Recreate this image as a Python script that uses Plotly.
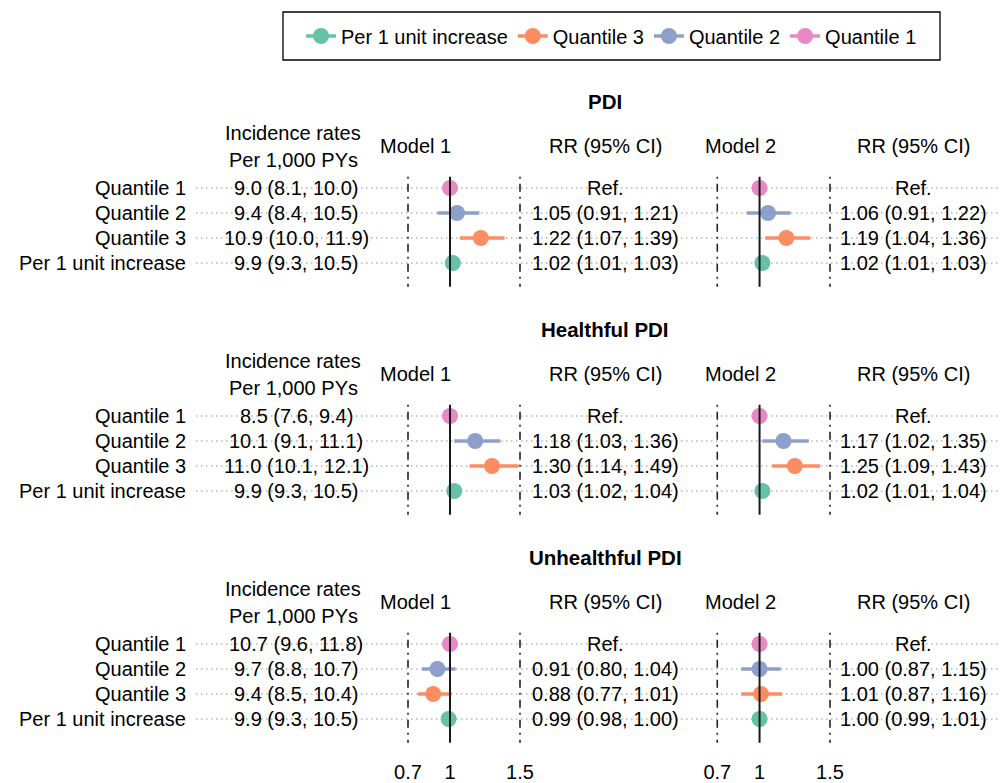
import plotly.graph_objects as go

# The page places the figure 8px from the top-left corner of the window,
# so the figure is 1000x775 and reference pixel positions are shifted by OFF.
OFF = 8
W, H = 1008 - OFF, 783 - OFF

# ---------------- data ----------------
row_labels = ["Quantile 1", "Quantile 2", "Quantile 3", "Per 1 unit increase"]
panel_titles = ["PDI", "Healthful PDI", "Unhealthful PDI"]

# incidence rates per 1,000 PYs (rate, lower, upper)
ir_rate = [[9.0, 9.4, 10.9, 9.9], [8.5, 10.1, 11.0, 9.9], [10.7, 9.7, 9.4, 9.9]]
ir_lo = [[8.1, 8.4, 10.0, 9.3], [7.6, 9.1, 10.1, 9.3], [9.6, 8.8, 8.5, 9.3]]
ir_hi = [[10.0, 10.5, 11.9, 10.5], [9.4, 11.1, 12.1, 10.5], [11.8, 10.7, 10.4, 10.5]]

# Model 1 RR (95% CI)
m1_rr = [[1.00, 1.05, 1.22, 1.02], [1.00, 1.18, 1.30, 1.03], [1.00, 0.91, 0.88, 0.99]]
m1_lo = [[1.00, 0.91, 1.07, 1.01], [1.00, 1.03, 1.14, 1.02], [1.00, 0.80, 0.77, 0.98]]
m1_hi = [[1.00, 1.21, 1.39, 1.03], [1.00, 1.36, 1.49, 1.04], [1.00, 1.04, 1.01, 1.00]]

# Model 2 RR (95% CI)
m2_rr = [[1.00, 1.06, 1.19, 1.02], [1.00, 1.17, 1.25, 1.02], [1.00, 1.00, 1.01, 1.00]]
m2_lo = [[1.00, 0.91, 1.04, 1.01], [1.00, 1.02, 1.09, 1.01], [1.00, 0.87, 0.87, 0.99]]
m2_hi = [[1.00, 1.22, 1.36, 1.03], [1.00, 1.35, 1.43, 1.04], [1.00, 1.15, 1.16, 1.01]]

x_tickvals = [0.7, 1, 1.5]
x_ticktext = ["0.7", "1", "1.5"]
dashed_refs = [0.7, 1.5]
null_ref = 1

colors = {
    "Quantile 1": "#E78AC3",
    "Quantile 2": "#8DA0CB",
    "Quantile 3": "#FC8D62",
    "Per 1 unit increase": "#66C2A5",
}
legend_order = ["Per 1 unit increase", "Quantile 3", "Quantile 2", "Quantile 1"]

# ---------------- layout helpers ----------------
FONT = "Liberation Sans, Arial, sans-serif"
FS = 20
ROW_PX = 25.0
row0_px = [188 - OFF, 416 - OFF, 644 - OFF]
Y_TOP, Y_BOT = -4.0, 4.2  # axis units (rows are 0..3), reversed axis


def fx(ref_px):
    return (ref_px - OFF) / W


def fy(ref_px):
    return 1 - (ref_px - OFF) / H


def ydomain(r0):
    top = r0 + Y_TOP * ROW_PX
    bot = r0 + Y_BOT * ROW_PX
    return [1 - bot / H, 1 - top / H]


fig = go.Figure()

models = [("x", m1_rr, m1_lo, m1_hi), ("x2", m2_rr, m2_lo, m2_hi)]
shown = set()
for p in range(3):
    yref = "y" if p == 0 else f"y{p + 1}"
    for xa, rr, lo, hi in models:
        for r, lab in enumerate(row_labels):
            est = rr[p][r]
            fig.add_trace(go.Scatter(
                x=[est], y=[r], xaxis=xa, yaxis=yref,
                mode="lines+markers", name=lab, legendgroup=lab,
                showlegend=lab not in shown,
                legendrank=legend_order.index(lab) + 1,
                marker=dict(size=16, color=colors[lab]),
                line=dict(color=colors[lab], width=3.5),
                error_x=dict(type="data", symmetric=False,
                             array=[hi[p][r] - est], arrayminus=[est - lo[p][r]],
                             thickness=3.5, width=0, color=colors[lab]),
                hoverinfo="skip",
            ))
            shown.add(lab)

shapes = []
annotations = []

# legend frame
shapes.append(dict(type="rect", xref="paper", yref="paper",
                   x0=fx(283), x1=fx(940), y0=fy(60), y1=fy(12),
                   line=dict(color="black", width=1.3), fillcolor="rgba(0,0,0,0)",
                   layer="above"))

for p in range(3):
    yref = "y" if p == 0 else f"y{p + 1}"
    # dotted row guide lines
    for r in range(len(row_labels)):
        shapes.append(dict(type="line", xref="paper", yref=yref,
                           x0=fx(196), x1=fx(1003), y0=r, y1=r,
                           line=dict(color="#b5b5b5", width=1.3, dash="1.5px,3.5px"),
                           layer="below"))
    for xa in ["x", "x2"]:
        for v in dashed_refs:
            shapes.append(dict(type="line", xref=xa, yref=yref, x0=v, x1=v,
                               y0=-0.45, y1=3.95,
                               line=dict(color="#222222", width=1.6, dash="2px,5px,8px,5px"),
                               layer="below"))
        shapes.append(dict(type="line", xref=xa, yref=yref, x0=null_ref, x1=null_ref,
                           y0=-0.45, y1=3.95,
                           line=dict(color="#1a1a1a", width=2), layer="above"))

    def ann(text, xpx, y, anchor="center", bold=False, size=FS):
        annotations.append(dict(
            text=f"<b>{text}</b>" if bold else text,
            x=fx(xpx), xref="paper", y=y, yref=yref,
            xanchor=anchor, yanchor="middle", showarrow=False,
            font=dict(family=FONT, size=size, color="black")))

    ann(panel_titles[p], 605, -3.45, bold=True, size=20.5)
    ann("Incidence rates", 293, -2.2)
    ann("Per 1,000 PYs", 293, -1.12)
    ann("Model 1", 415, -1.68)
    ann("RR (95% CI)", 605, -1.68)
    ann("Model 2", 740, -1.68)
    ann("RR (95% CI)", 913, -1.68)
    for r, lab in enumerate(row_labels):
        ann(lab, 188, r, anchor="right")
        ann(f"{ir_rate[p][r]:.1f} ({ir_lo[p][r]:.1f}, {ir_hi[p][r]:.1f})", 296, r)
        for (xa, rr, lo, hi), cx in zip(models, [605, 913]):
            if r == 0:
                txt = "Ref."
            else:
                txt = f"{rr[p][r]:.2f} ({lo[p][r]:.2f}, {hi[p][r]:.2f})"
            ann(txt, cx, r)

yaxis_common = dict(range=[Y_BOT, Y_TOP], visible=False, fixedrange=True)
xaxis_common = dict(range=[0.6, 1.6], showgrid=False, zeroline=False, showline=False,
                    ticks="", tickvals=x_tickvals, ticktext=x_ticktext,
                    tickfont=dict(family=FONT, size=FS, color="black"),
                    anchor="y3", ticklabelstandoff=9, fixedrange=True)

fig.update_layout(
    width=W, height=H,
    margin=dict(l=0, r=0, t=0, b=0),
    paper_bgcolor="white", plot_bgcolor="white",
    font=dict(family=FONT, size=FS, color="black"),
    xaxis=dict(domain=[fx(394), fx(534)], **xaxis_common),
    xaxis2=dict(domain=[fx(703.2), fx(844.1)], **xaxis_common),
    yaxis=dict(domain=ydomain(row0_px[0]), **yaxis_common),
    yaxis2=dict(domain=ydomain(row0_px[1]), **yaxis_common),
    yaxis3=dict(domain=ydomain(row0_px[2]), **yaxis_common),
    shapes=shapes,
    annotations=annotations,
    showlegend=True,
    legend=dict(orientation="h", x=fx(611.5), xanchor="center", y=fy(36), yanchor="middle",
                borderwidth=0, bgcolor="rgba(0,0,0,0)",
                font=dict(family=FONT, size=FS, color="black"), itemwidth=30,
                traceorder="normal"),
)

fig.write_html("out.html")
